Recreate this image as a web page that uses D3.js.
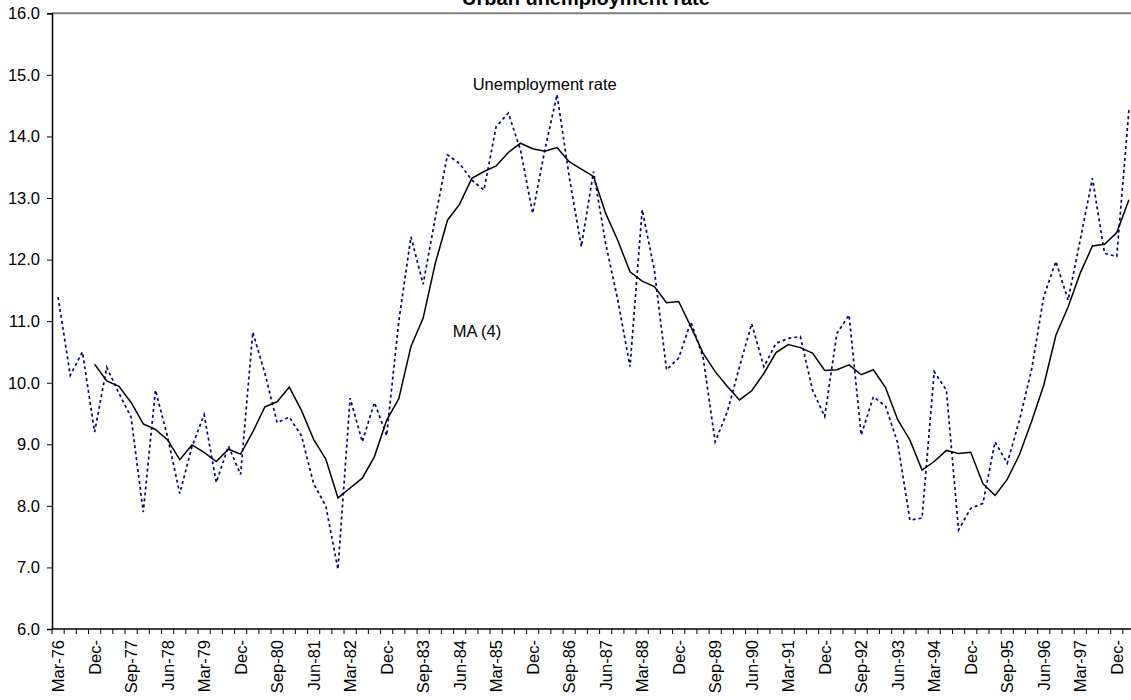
<!DOCTYPE html>
<html>
<head>
<meta charset="utf-8">
<script src="https://cdn.jsdelivr.net/npm/d3@7"></script>
<style>
  body { margin: 0; background: #fff; }
  text { font-family: "Liberation Sans", Arial, sans-serif; }
</style>
</head>
<body>
<div id="chart"></div>
<script>
// Quarterly urban unemployment rate, Mar-76 .. Mar-98
const quarters = [];
for (let yr = 76; yr <= 98; yr++) {
  ["Mar", "Jun", "Sep", "Dec"].forEach(m => quarters.push(`${m}-${yr}`));
}
quarters.length = 89;

const rate = [
  11.39, 10.12, 10.50, 9.20, 10.25, 9.83, 9.44, 7.90, 9.88, 9.12,
  8.20, 8.96, 9.48, 8.38, 8.97, 8.51, 10.82, 10.15, 9.35, 9.44,
  9.14, 8.36, 8.00, 6.97, 9.75, 9.04, 9.68, 9.14, 11.00, 12.37,
  11.60, 12.68, 13.70, 13.56, 13.29, 13.13, 14.16, 14.38, 13.78, 12.75,
  13.78, 14.68, 13.35, 12.21, 13.43, 12.26, 11.34, 10.26, 12.81, 11.83,
  10.21, 10.40, 10.99, 10.42, 9.04, 9.53, 10.26, 10.96, 10.26, 10.64,
  10.72, 10.75, 9.88, 9.45, 10.80, 11.10, 9.15, 9.77, 9.62, 9.02,
  7.77, 7.80, 10.18, 9.88, 7.61, 7.96, 8.04, 9.04, 8.69, 9.39,
  10.21, 11.40, 11.97, 11.34, 12.32, 13.32, 12.10, 12.05, 14.43
];

// 4-quarter moving average, starts at the 4th quarter
const ma4 = [
  null, null, null, 10.30, 10.03, 9.94, 9.68, 9.33, 9.24, 9.07,
  8.75, 8.99, 8.87, 8.72, 8.92, 8.84, 9.20, 9.61, 9.69, 9.93,
  9.55, 9.08, 8.76, 8.13, 8.29, 8.45, 8.80, 9.39, 9.74, 10.59,
  11.05, 11.94, 12.64, 12.90, 13.32, 13.43, 13.52, 13.74, 13.89, 13.80,
  13.76, 13.82, 13.59, 13.47, 13.35, 12.75, 12.31, 11.80, 11.65, 11.56,
  11.30, 11.32, 10.91, 10.48, 10.18, 9.94, 9.72, 9.87, 10.15, 10.49,
  10.62, 10.57, 10.48, 10.20, 10.21, 10.29, 10.13, 10.21, 9.92, 9.40,
  9.07, 8.58, 8.72, 8.90, 8.85, 8.87, 8.36, 8.17, 8.43, 8.83,
  9.37, 9.96, 10.77, 11.23, 11.78, 12.22, 12.25, 12.44, 12.97
];

// every third quarter gets a label
const tickLabels = [
  "Mar-76", "Dec-", "Sep-77", "Jun-78", "Mar-79", "Dec-", "Sep-80", "Jun-81",
  "Mar-82", "Dec-", "Sep-83", "Jun-84", "Mar-85", "Dec-", "Sep-86", "Jun-87",
  "Mar-88", "Dec-", "Sep-89", "Jun-90", "Mar-91", "Dec-", "Sep-92", "Jun-93",
  "Mar-94", "Dec-", "Sep-95", "Jun-96", "Mar-97", "Dec-"
];
const yTicks = [6, 7, 8, 9, 10, 11, 12, 13, 14, 15, 16];

const width = 1131, height = 700;
const margin = {top: 13.3, left: 52, bottom: 71};
const plotRight = 1135;

const svg = d3.select("#chart").append("svg")
  .attr("width", width)
  .attr("height", height);

const x = d3.scaleBand()
  .domain(quarters)
  .range([margin.left, plotRight])
  .padding(0);
const cx = q => x(q) + x.bandwidth() / 2;

const y = d3.scaleLinear()
  .domain([6, 16])
  .range([height - margin.bottom, margin.top]);

// top border of plot area
svg.append("line")
  .attr("x1", margin.left).attr("x2", plotRight)
  .attr("y1", y(16)).attr("y2", y(16))
  .attr("stroke", "#808080").attr("stroke-width", 2);

// Y axis
const yAxis = svg.append("g")
  .attr("transform", `translate(${margin.left},0)`)
  .call(d3.axisLeft(y).tickValues(yTicks).tickFormat(d3.format(".1f")).tickSize(5).tickPadding(7));
yAxis.select(".domain").attr("stroke", "#000").attr("stroke-width", 1.5);
yAxis.selectAll("text").attr("font-size", "16.5px").attr("fill", "#000")
  .style("font-family", "'Liberation Sans', Arial, sans-serif");

// X axis: a tick at every quarter boundary
const xAxis = svg.append("g")
  .attr("transform", `translate(0,${y(6)})`);
xAxis.append("line")
  .attr("x1", margin.left).attr("x2", plotRight)
  .attr("stroke", "#000").attr("stroke-width", 1.5);
xAxis.selectAll("line.tick")
  .data(quarters)
  .enter().append("line")
  .attr("class", "tick")
  .attr("x1", d => x(d)).attr("x2", d => x(d))
  .attr("y1", 0).attr("y2", 5)
  .attr("stroke", "#000");
xAxis.selectAll("text")
  .data(tickLabels)
  .enter().append("text")
  .attr("transform", (d, i) => `translate(${cx(quarters[i * 3])},11) rotate(-90)`)
  .attr("text-anchor", "end")
  .attr("dy", "0.36em")
  .attr("font-size", "16.5px")
  .text(d => d);

// Lines
const line = d3.line()
  .defined(d => d.v != null)
  .x(d => cx(d.q))
  .y(d => y(d.v));

svg.append("path")
  .datum(quarters.map((q, i) => ({q, v: rate[i]})))
  .attr("d", line)
  .attr("fill", "none")
  .attr("stroke", "#00008b")
  .attr("stroke-width", 1.7)
  .attr("stroke-dasharray", "3,3");

svg.append("path")
  .datum(quarters.map((q, i) => ({q, v: ma4[i]})))
  .attr("d", line)
  .attr("fill", "none")
  .attr("stroke", "#000")
  .attr("stroke-width", 1.5);

// Title (cut by the top edge, as in the original)
svg.append("text")
  .attr("x", 586)
  .attr("y", 5)
  .attr("text-anchor", "middle")
  .attr("font-size", "20px")
  .attr("font-weight", "bold")
  .text("Urban unemployment rate");

// Series labels
svg.append("text")
  .attr("x", 472.7).attr("y", 90)
  .attr("font-size", "16.5px")
  .text("Unemployment rate");

svg.append("text")
  .attr("x", 452.7).attr("y", 337)
  .attr("font-size", "16.5px")
  .text("MA (4)");
</script>
</body>
</html>
